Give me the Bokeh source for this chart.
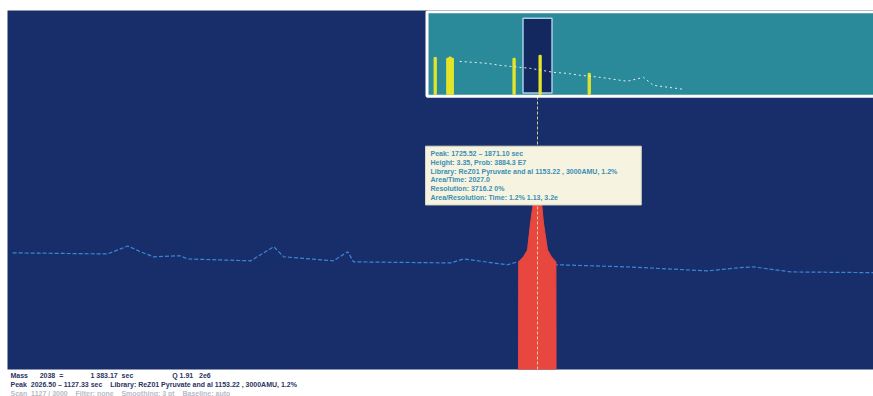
from bokeh.plotting import figure
from bokeh.models import Range1d, Label, Title
from bokeh.embed import file_html
from bokeh.resources import INLINE

# ---- main trace (retention time, sec / relative intensity %) ----
trace_time = [1203, 1335, 1363, 1381, 1399, 1436, 1446, 1534, 1552, 1566, 1580,
              1649, 1669, 1677, 1812, 1830, 1891, 1905, 1959, 2058, 2169, 2215,
              2233, 2285, 2400]
trace_int = [32.4, 32.1, 34.3, 32.7, 31.3, 31.6, 30.7, 30.2, 32.4, 34.1, 31.3,
             30.2, 32.7, 29.9, 29.6, 30.7, 29.1, 29.9, 29.1, 28.5, 27.4, 28.3,
             28.5, 27.1, 26.9]

# ---- selected peak outline ----
peak_time = [1906.4, 1906.6, 1913.3, 1918.9, 1923.1, 1927.2, 1932.8, 1938.3,
             1941.1, 1946.7, 1952.2, 1958.4, 1958.6]
peak_int = [0.0, 29.9, 31.3, 33.2, 40.7, 46.5, 47.1, 46.5, 40.7, 33.2, 31.3,
            29.9, 0.0]
apex_time = 1932.8
apex_int = 47.1

# ---- overview (run time, min / relative intensity %) ----
ov_bar_time = [1.1, 2.8, 3.1, 3.4, 11.7, 15.2, 21.8]
ov_bar_int = [45.0, 44.0, 45.5, 44.0, 44.0, 47.6, 25.6]
ov_trace_time = [4.4, 8.1, 9.8, 11.2, 13.9, 17.0, 18.8, 20.6, 23.3, 26.9, 29.1,
                 30.4, 34.4]
ov_trace_int = [40.2, 37.8, 35.4, 34.1, 31.7, 26.8, 25.6, 23.2, 20.7, 15.9,
                20.7, 11.0, 6.1]
ov_run_end = 60.0
sel_start, sel_end = 12.9, 16.8

tooltip_lines = [
    "Peak: 1725.52 \u2013 1871.10 sec",
    "Height: 3.35, Prob: 3884.3 E7",
    "Library: ReZ01 Pyruvate and al 1153.22 , 3000AMU, 1.2%",
    "Area/Time: 2027.0",
    "Resolution: 3716.2 0%",
    "Area/Resolution: Time: 1.2% 1.13, 3.2e",
]
NB = "\u00a0"
status_lines = [
    ("Mass" + NB * 6 + "2038" + NB * 2 + "=" + NB * 14 + "1 383.17" + NB * 2
     + "sec" + NB * 20 + "Q 1.91" + NB * 3 + "2e6", "#2a3560"),
    ("Peak" + NB * 2 + "2026.50 \u2013 1127.33 sec" + NB * 4
     + "Library: ReZ01 Pyruvate and al 1153.22 , 3000AMU, 1.2%", "#2a3560"),
    ("Scan" + NB * 2 + "1127 / 3000" + NB * 4 + "Filter: none" + NB * 4
     + "Smoothing: 3 pt" + NB * 4 + "Baseline: auto", "#b8bcc8"),
]

NAVY = "#182e6a"
TEAL = "#2a8a99"
RED = "#e8473f"
YELLOW = "#e4e42a"
FONT = "Liberation Sans"

# frame: page x 7..873, y 10..370
frame_w, frame_h = 866.0, 360.0
sec_per_px = 1.3905
y_per_px = 1 / 3.61

p = figure(width=873, height=396,
           x_range=Range1d(1200 - 3 * sec_per_px, 2400),
           y_range=Range1d(0, frame_h * y_per_px), output_backend="svg",
           toolbar_location=None, x_axis_type=None, y_axis_type=None,
           min_border_left=7, min_border_right=0, min_border_top=10,
           min_border_bottom=0, background_fill_color=NAVY,
           border_fill_color="white", outline_line_color=None)
p.grid.visible = False

# overview ranges: map the inset region of the frame
inset_left_px, inset_w_px = 419.5, 446.5
px_per_min = inset_w_px / ov_run_end
p.extra_x_ranges = {"ov": Range1d(-inset_left_px / px_per_min, ov_run_end)}
base_px, px_per_unit = 276.0, 0.82
p.extra_y_ranges = {"ov": Range1d(-base_px / px_per_unit,
                                  (frame_h - base_px) / px_per_unit)}

p.line(trace_time, trace_int, line_color="#3a86d6", line_width=1.2,
       line_dash="4 2")
p.patch(peak_time, peak_int, fill_color=RED, line_color=RED, line_width=1)
p.segment(x0=[apex_time], y0=[0], x1=[apex_time], y1=[100],
          line_color="#f0e6a0", line_width=1, line_dash="3 2", line_alpha=0.85)

# inset
p.quad(left=[0], right=[ov_run_end + 2], bottom=[-2.5], top=[101],
       fill_color=TEAL, line_color="white", line_width=3,
       x_range_name="ov", y_range_name="ov")
p.quad(left=[sel_start], right=[sel_end], bottom=[1.5], top=[93],
       fill_color="#13285e", line_color="#a9cde6", line_width=1.5,
       x_range_name="ov", y_range_name="ov")
p.vbar(x=ov_bar_time, top=ov_bar_int, bottom=0, width=0.3,
       fill_color=YELLOW, line_color=YELLOW,
       x_range_name="ov", y_range_name="ov")
p.line(ov_trace_time, ov_trace_int, line_color="#e8f0f0", line_width=1,
       line_dash="2 3", x_range_name="ov", y_range_name="ov")

# tooltip
tip = Label(x=apex_time, y=apex_int, x_offset=-112, y_offset=-5,
            anchor="bottom_left", text="\n".join(tooltip_lines),
            text_font=FONT, text_font_size="7px",
            text_font_style="bold", text_color="#3a8fb4",
            text_line_height=1.25,
            background_fill_color="#f6f4e0", border_line_color="#d8d8c0",
            padding=dict(left=5, right=24, top=4, bottom=4))
p.add_layout(tip)

for text, color in status_lines:
    p.add_layout(Title(text=text, align="left", text_font_size="7px",
                       text_font=FONT,
                       text_font_style="bold", text_color=color,
                       standoff=0, offset=3), "below")

open("out.html", "w").write(file_html(p, INLINE))
